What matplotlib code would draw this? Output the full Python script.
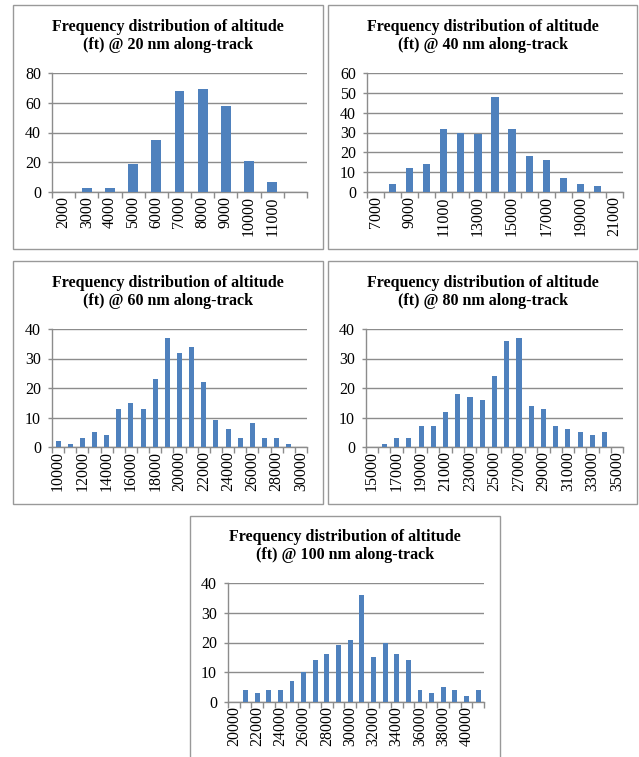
import matplotlib
matplotlib.use('Agg')
import matplotlib.pyplot as plt
from matplotlib.patches import Rectangle

plt.rcParams['font.family'] = ['Liberation Serif', 'DejaVu Serif']

# altitude bins (ft) and counts at each along-track distance
bins_20 = ['2000', '3000', '4000', '5000', '6000', '7000', '8000', '9000', '10000', '11000', '']
freq_20 = [0, 3, 3, 19, 35, 68, 69, 58, 21, 7, 0]

bins_40 = [str(v) for v in range(7000, 21001, 1000)]
freq_40 = [0, 4, 12, 14, 32, 30, 29, 48, 32, 18, 16, 7, 4, 3, 0]

bins_60 = [str(v) for v in range(10000, 30001, 1000)]
freq_60 = [2, 1, 3, 5, 4, 13, 15, 13, 23, 37, 32, 34, 22, 9, 6, 3, 8, 3, 3, 1, 0]

bins_80 = [str(v) for v in range(15000, 35001, 1000)]
freq_80 = [0, 1, 3, 3, 7, 7, 12, 18, 17, 16, 24, 36, 37, 14, 13, 7, 6, 5, 4, 5, 0]

bins_100 = [str(v) for v in range(20000, 41001, 1000)]
freq_100 = [0, 4, 3, 4, 4, 7, 10, 14, 16, 19, 21, 36, 15, 20, 16, 14, 4, 3, 5, 4, 2, 4]

distances = [20, 40, 60, 80, 100]
y_max = [80, 60, 40, 40, 40]
y_step = [20, 10, 10, 10, 10]
label_every = [1, 2, 2, 2, 2]

W, H = 639, 757
fig = plt.figure(figsize=(W / 100, H / 100), dpi=100)

# frame boxes and plot areas in pixels: (left, top, right, bottom)
frames = [(13, 5, 323, 249), (328, 5, 637, 249), (13, 261, 323, 504),
          (328, 261, 637, 504), (190, 516, 500, 760)]
areas = [(52, 73, 307, 192), (367, 73, 623, 192), (52, 329, 307, 447),
         (366, 329, 623, 447), (228, 583, 484, 702)]
title_y = [36, 36, 292, 292, 546]

grey = '#8c8c8c'
blue = '#4f81bd'

all_bins = [bins_20, bins_40, bins_60, bins_80, bins_100]
all_freq = [freq_20, freq_40, freq_60, freq_80, freq_100]

for k in range(5):
    fl, ft, fr, fb = frames[k]
    fig.patches.append(Rectangle((fl / W, 1 - fb / H), (fr - fl) / W, (fb - ft) / H,
                                 transform=fig.transFigure, fill=False,
                                 edgecolor='#999999', linewidth=1.0))
    fig.text((fl + fr) / 2 / W, 1 - title_y[k] / H,
             'Frequency distribution of altitude\n(ft) @ %d nm along-track' % distances[k],
             ha='center', va='center', fontsize=11.5, fontweight='bold',
             linespacing=1.15)

    l, t, r, b = areas[k]
    ax = fig.add_axes([l / W, 1 - b / H, (r - l) / W, (b - t) / H])
    bins = all_bins[k]
    freq = all_freq[k]
    n = len(bins)
    x = list(range(n))
    ax.bar(x, freq, width=0.42, color=blue, zorder=3)

    ax.set_xlim(-0.5, n - 0.5)
    ax.set_ylim(0, y_max[k])
    ax.set_yticks(range(0, y_max[k] + 1, y_step[k]))
    ax.yaxis.grid(True, color=grey, linewidth=1.0, zorder=0)

    # tick marks sit between categories, labels under the category centres
    ax.set_xticks([i - 0.5 for i in range(n + 1)])
    ax.set_xticklabels([])
    shown = [i for i in range(n) if i % label_every[k] == 0]
    ax.set_xticks(shown, minor=True)
    ax.set_xticklabels([bins[i] for i in shown], minor=True, rotation=90,
                       fontsize=11.5)
    ax.tick_params(axis='x', which='major', length=4, color=grey, width=1)
    ax.tick_params(axis='x', which='minor', length=0, pad=3)
    ax.tick_params(axis='y', length=3, color=grey, width=1, labelsize=11.5, pad=5)

    for side in ['top', 'right']:
        ax.spines[side].set_visible(False)
    for side in ['left', 'bottom']:
        ax.spines[side].set_color(grey)
        ax.spines[side].set_linewidth(1.0)

fig.savefig('out.png', dpi=100)
